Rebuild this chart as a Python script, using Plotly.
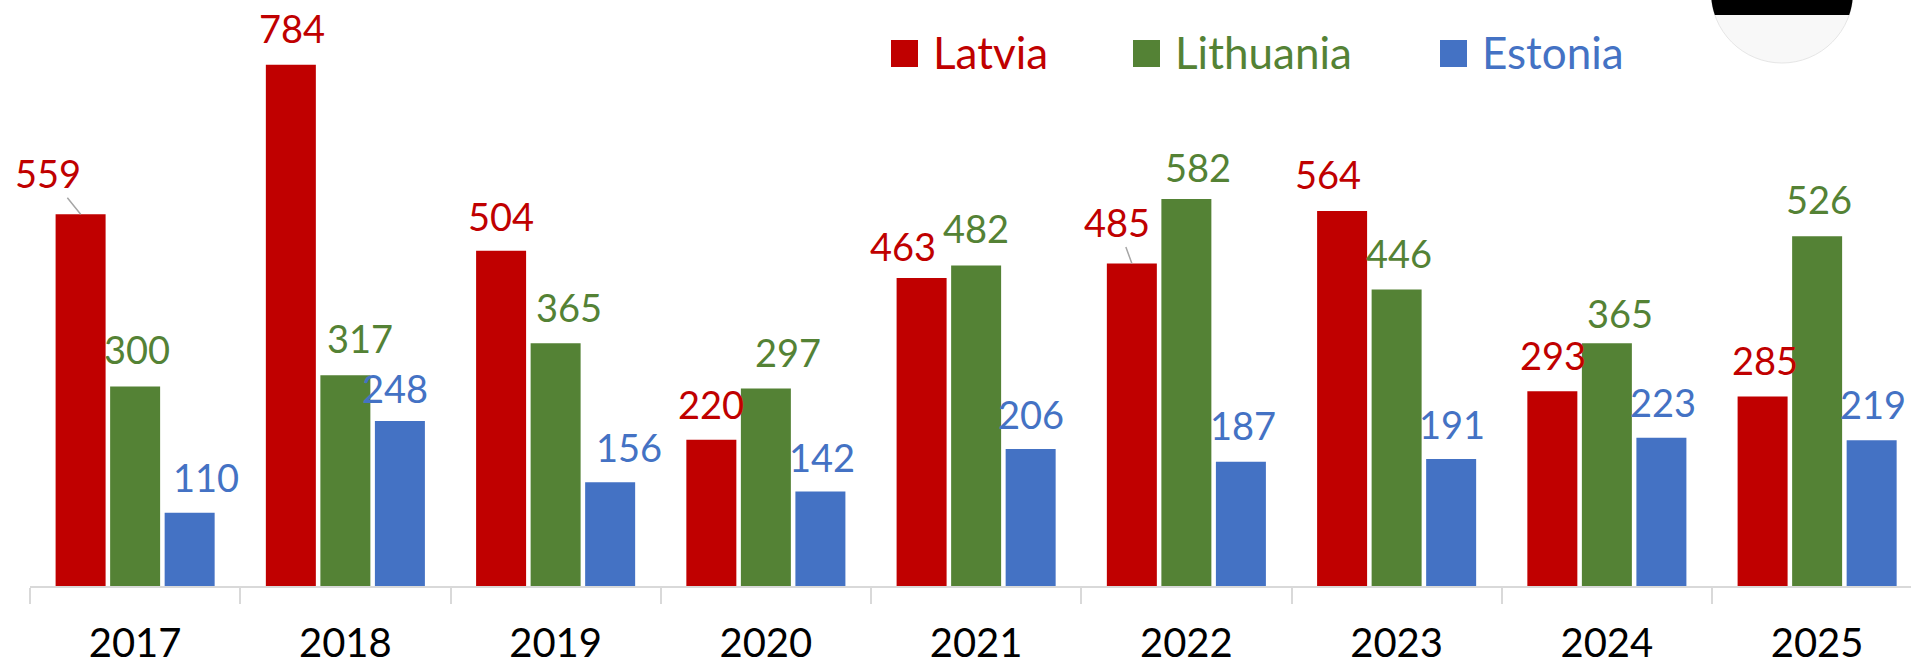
"""
Baltic states comparison: grouped bar chart, 2017-2025.
"""
import numpy as np
import plotly.graph_objects as go

# ---- data ----
years = ["2017", "2018", "2019", "2020", "2021", "2022", "2023", "2024", "2025"]
latvia = [559, 784, 504, 220, 463, 485, 564, 293, 285]
lithuania = [300, 317, 365, 297, 482, 582, 446, 365, 526]
estonia = [110, 248, 156, 142, 206, 187, 191, 223, 219]
series_names = ["Latvia", "Lithuania", "Estonia"]

# ---- styling ----
colors = ["#C00000", "#548235", "#4472C4"]
FONT = "Lato"
W, H = 1911, 668
ML = 30
AXIS_Y = 586             # x axis line, in pixels from the top
MB = H - AXIS_Y
PLOT_W, PLOT_H = W - ML, AXIS_Y
CAT_PX = 210.25          # width of one category in pixels
SLOT = 54.5              # distance between bar centres inside a group

# label nudges (px) relative to bar centre / bar top, per series
label_dx = [
    [-33, 1, 0, 0, -19, -15, -14, 1, 2],
    [2, 15, 13, 22, 0, 12, 2, 13, 2],
    [16, -5, 19, 2, 0, 2, 1, 2, 1],
]
label_dy = [
    [41, 37, 35, 36, 32, 41, 37, 36, 36],
    [38, 37, 36, 37, 37, 32, 36, 30, 37],
    [36, 33, 35, 35, 35, 37, 35, 36, 36],
]
leader = {(0, 0), (0, 5)}  # labels that sit away from the bar with a leader line


def px_x(px):
    # page pixel -> paper fraction
    return (px - ML) / PLOT_W


def px_y(py):
    return (PLOT_H - py) / PLOT_H


fig = go.Figure()
all_series = [latvia, lithuania, estonia]
for name, vals, col in zip(series_names, all_series, colors):
    fig.add_trace(go.Bar(
        x=years, y=vals, name=name,
        marker=dict(color=col, line=dict(width=0)),
        showlegend=False,
        hoverinfo="x+y+name",
    ))

# data labels
annotations = []
for s, (vals, col) in enumerate(zip(all_series, colors)):
    offset = (s - 1) * SLOT
    for i, v in enumerate(vals):
        if (s, i) in leader:
            annotations.append(dict(
                x=i, y=v, xref="x", yref="y", xshift=offset,
                text=str(v), showarrow=True, arrowhead=0, arrowwidth=1.5,
                arrowcolor="#A6A6A6", ax=label_dx[s][i], ay=-label_dy[s][i],
                standoff=0,
                font=dict(family=FONT, size=38, color=col),
            ))
        else:
            annotations.append(dict(
                x=i, y=v, xref="x", yref="y",
                xshift=offset + label_dx[s][i], yshift=label_dy[s][i],
                text=str(v), showarrow=False, yanchor="middle",
                font=dict(family=FONT, size=38, color=col),
            ))

# legend (drawn by hand so the swatches can be large)
legend_sq = [891, 1133, 1440]
shapes = []
for name, col, x0 in zip(series_names, colors, legend_sq):
    shapes.append(dict(
        type="rect", xref="paper", yref="paper",
        x0=px_x(x0), x1=px_x(x0 + 27), y0=px_y(67), y1=px_y(40),
        fillcolor=col, line=dict(width=0),
    ))
    annotations.append(dict(
        x=px_x(x0 + 40), y=px_y(52), xref="paper", yref="paper",
        xanchor="left", yanchor="middle", showarrow=False,
        text=name, font=dict(family=FONT, size=44, color=col),
    ))

# round badge in the top-right corner (black band over light disc)
cx, cy, r = 1782, -8, 71
shapes.append(dict(
    type="circle", xref="paper", yref="paper",
    x0=px_x(cx - r), x1=px_x(cx + r), y0=px_y(cy + r), y1=px_y(cy - r),
    fillcolor="#F8F8F8", line=dict(color="#E6E6E6", width=1),
))
a0 = np.arcsin(23 / r)
ang = np.linspace(np.pi - a0, 2 * np.pi + a0, 60)
pts = [(px_x(cx + r * np.cos(a)), px_y(cy + r * np.sin(a))) for a in ang]
path = "M " + " L ".join(f"{x:.5f},{y:.5f}" for x, y in pts) + " Z"
shapes.append(dict(
    type="path", xref="paper", yref="paper", path=path,
    fillcolor="black", line=dict(width=0),
))

fig.update_layout(
    width=W, height=H,
    margin=dict(l=ML, r=0, t=0, b=MB, autoexpand=False),
    paper_bgcolor="white", plot_bgcolor="white",
    barmode="group", bargap=0.222, bargroupgap=0.083,
    font=dict(family=FONT, color="black"),
    annotations=annotations, shapes=shapes,
    xaxis=dict(
        type="category", range=[-0.5, -0.5 + PLOT_W / CAT_PX],
        tickson="boundaries", ticks="outside", ticklen=16,
        tickcolor="#D9D9D9", tickwidth=1.5,
        showline=True, linecolor="#D9D9D9", linewidth=1.5,
        showgrid=False, automargin=False,
        tickfont=dict(family=FONT, size=40, color="black"),
        ticklabelstandoff=21,
    ),
    yaxis=dict(range=[0, PLOT_H / 0.665], visible=False, showgrid=False,
               zeroline=False),
)

# drop the default page margin so the figure fills the window exactly
fig.write_html(
    "out.html",
    config={"displayModeBar": False},
    post_script="document.body.style.margin='0';",
)
